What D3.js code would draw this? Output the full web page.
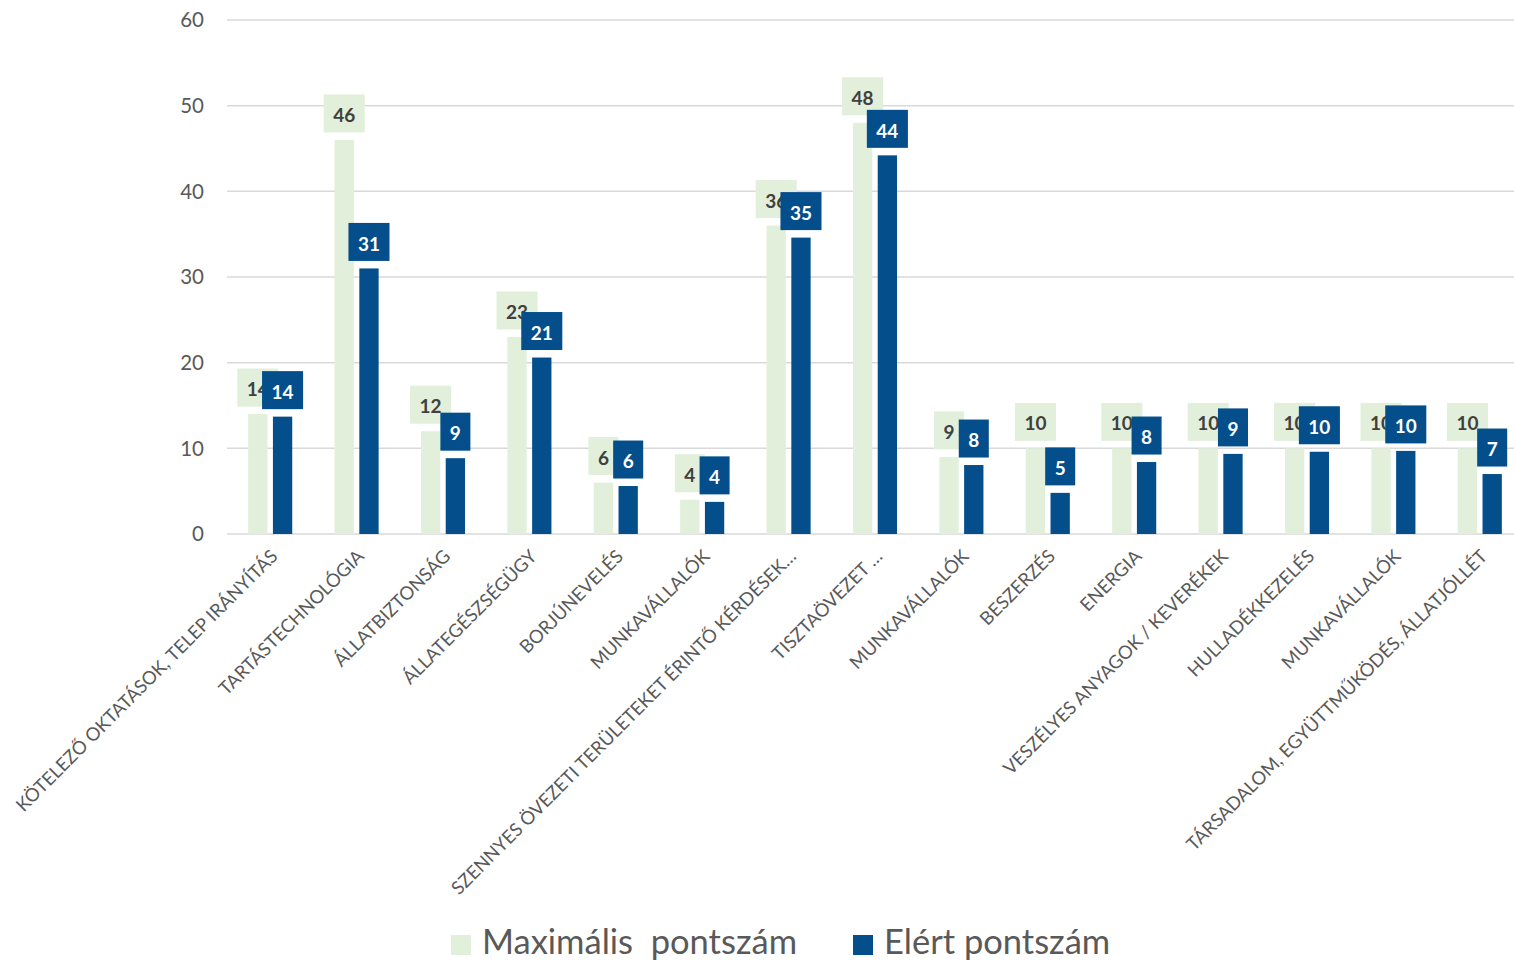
<!DOCTYPE html>
<html>
<head>
<meta charset="utf-8">
<script src="https://cdn.jsdelivr.net/npm/d3@7"></script>
<style>
  body { margin: 0; background: #fff; }
  svg { display: block; font-family: Lato, "Open Sans", sans-serif; }
</style>
</head>
<body>
<svg id="chart"></svg>
<script>
const categories = [
  "KÖTELEZŐ OKTATÁSOK, TELEP IRÁNYÍTÁS",
  "TARTÁSTECHNOLÓGIA",
  "ÁLLATBIZTONSÁG",
  "ÁLLATEGÉSZSÉGÜGY",
  "BORJÚNEVELÉS",
  "MUNKAVÁLLALÓK",
  "SZENNYES ÖVEZETI TERÜLETEKET ÉRINTŐ KÉRDÉSEK…",
  "TISZTAÖVEZET …",
  "MUNKAVÁLLALÓK",
  "BESZERZÉS",
  "ENERGIA",
  "VESZÉLYES ANYAGOK / KEVERÉKEK",
  "HULLADÉKKEZELÉS",
  "MUNKAVÁLLALÓK",
  "TÁRSADALOM, EGYÜTTMŰKÖDÉS, ÁLLATJÓLLÉT"
];
const maxScore = [14, 46, 12, 23, 6, 4, 36, 48, 9, 10, 10, 10, 10, 10, 10];
const gotScore = [13.7, 31.0, 8.85, 20.6, 5.6, 3.75, 34.6, 44.2, 8.05, 4.8, 8.4, 9.35, 9.6, 9.7, 7.0];
const seriesNames = ["Maximális  pontszám", "Elért pontszám"];
const yTicks = [0, 10, 20, 30, 40, 50, 60];

const W = 1514, H = 961;
const green = "#E2EFDA", blue = "#044E8C";

const svg = d3.select("#chart").attr("width", W).attr("height", H);

const x0 = d3.scaleBand()
  .domain(d3.range(categories.length))
  .range([227, 1523])
  .paddingInner(0.49)
  .paddingOuter(0.245);

const x1 = d3.scaleBand()
  .domain([0, 1])
  .range([0, x0.bandwidth()])
  .paddingInner(0.22);

const y = d3.scaleLinear().domain([0, 60]).range([534, 20]);

// gridlines
svg.append("g")
  .selectAll("line")
  .data(yTicks)
  .enter().append("line")
  .attr("x1", 227).attr("x2", W)
  .attr("y1", d => y(d)).attr("y2", d => y(d))
  .attr("stroke", "#D9D9D9")
  .attr("stroke-width", 1.5);

// y axis labels
svg.append("g")
  .selectAll("text")
  .data(yTicks)
  .enter().append("text")
  .attr("x", 204)
  .attr("y", d => y(d))
  .attr("dy", "0.36em")
  .attr("text-anchor", "end")
  .attr("fill", "#595959")
  .attr("font-size", 20.5)
  .text(d => d);

const rows = categories.map((c, i) => ({ i, vals: [maxScore[i], gotScore[i]] }));

// bars
const groups = svg.append("g")
  .selectAll("g")
  .data(rows)
  .enter().append("g")
  .attr("transform", d => `translate(${x0(d.i)},0)`);

groups.selectAll("rect")
  .data(d => d.vals.map((v, k) => ({ k, v })))
  .enter().append("rect")
  .attr("x", d => x1(d.k))
  .attr("width", x1.bandwidth())
  .attr("y", d => y(d.v))
  .attr("height", d => y(0) - y(d.v))
  .attr("fill", d => d.k === 0 ? green : blue);

// data labels: all green ones first, then blue ones on top
[0, 1].forEach(k => {
  const lg = svg.append("g");
  rows.forEach(r => {
    const v = r.vals[k];
    const cx = x0(r.i) + x1(k) + x1.bandwidth() / 2;
    const g = lg.append("g");
    const box = g.append("rect");
    const t = g.append("text")
      .attr("x", cx)
      .attr("y", y(v) - 7.5 - 19 + 2)
      .attr("dy", "0.35em")
      .attr("text-anchor", "middle")
      .attr("font-weight", "bold")
      .attr("font-size", 19)
      .attr("fill", k === 0 ? "#404040" : "#FFFFFF")
      .text(d3.format(".0f")(v));
    const tw = t.node().getComputedTextLength();
    const bw = tw + 19;
    box.attr("x", cx - bw / 2)
      .attr("y", y(v) - 7.5 - 38)
      .attr("width", bw)
      .attr("height", 38)
      .attr("fill", k === 0 ? green : blue);
  });
});

// category labels
svg.append("g")
  .selectAll("text")
  .data(rows)
  .enter().append("text")
  .attr("transform", d => `translate(${x0(d.i) + x0.bandwidth() / 2 + 4},553) rotate(-45)`)
  .attr("dy", "0.35em")
  .attr("text-anchor", "end")
  .attr("fill", "#595959")
  .attr("font-size", 18.4)
  .text(d => categories[d.i]);

// legend
const legend = svg.append("g");
const legendX = [451, 853];
seriesNames.forEach((name, k) => {
  legend.append("rect")
    .attr("x", legendX[k]).attr("y", 935)
    .attr("width", 20).attr("height", 20)
    .attr("fill", k === 0 ? green : blue);
  legend.append("text")
    .attr("x", legendX[k] + 31)
    .attr("y", 954)
    .attr("fill", "#595959")
    .attr("font-size", 34.5)
    .style("white-space", "pre")
    .text(name);
});
</script>
</body>
</html>
